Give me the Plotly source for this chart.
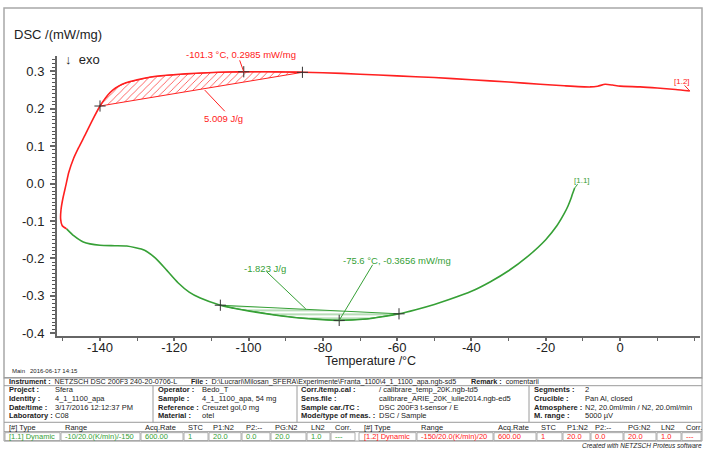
import plotly.graph_objects as go

W, H = 706, 453

# ---------------- data ----------------
# Segment [1.2] heating (red): temperature (°C), DSC (mW/mg)
red_T = [-149.0, -150.2, -150.6, -150.5, -150.0, -149.2, -148.4, -147.2, -145.8, -144.0,
         -142.0, -140.0, -139.0, -138.0, -136.5, -135.0, -133.0, -130.0, -126.6, -122.0,
         -117.0, -111.0, -105.0, -101.3, -95.0, -90.0, -85.5, -80.0, -70.0, -60.0,
         -50.0, -40.0, -30.0, -21.5, -15.0, -8.0, -6.0, -4.0, -2.0, 0.0,
         5.4, 10.0, 15.0, 18.8]
red_v = [-0.121, -0.112, -0.095, -0.070, -0.040, -0.005, 0.030, 0.065, 0.095, 0.130,
         0.170, 0.207, 0.222, 0.235, 0.250, 0.260, 0.269, 0.277, 0.284, 0.289,
         0.293, 0.296, 0.298, 0.2985, 0.2985, 0.298, 0.297, 0.296, 0.292, 0.2875,
         0.283, 0.277, 0.271, 0.265, 0.261, 0.258, 0.260, 0.265, 0.263, 0.260,
         0.258, 0.255, 0.251, 0.247]

# Segment [1.1] cooling (green)
green_T = [-12.2, -12.8, -13.2, -14.0, -15.0, -17.0, -20.0, -25.0, -30.0, -35.0,
           -40.0, -46.0, -50.0, -55.0, -59.5, -64.0, -68.3, -75.6, -81.0, -86.2,
           -93.0, -99.7, -104.0, -107.6, -113.0, -116.0, -119.0, -122.0, -125.0, -128.0,
           -132.8, -136.0, -140.0, -144.5, -147.0, -149.0]
green_v = [-0.012, -0.028, -0.040, -0.060, -0.080, -0.113, -0.150, -0.196, -0.233, -0.263,
           -0.288, -0.310, -0.323, -0.337, -0.348, -0.356, -0.362, -0.3656, -0.363, -0.359,
           -0.351, -0.341, -0.333, -0.325, -0.306, -0.290, -0.265, -0.232, -0.200, -0.178,
           -0.167, -0.166, -0.165, -0.156, -0.140, -0.121]

red_limits = [-140.0, -85.5]
green_limits = [-107.6, -59.5]
red_peak = (-101.3, 0.2985)
green_peak = (-75.6, -0.3656)
red_area_label = "5.009 J/g"
green_area_label = "-1.823 J/g"

x_ticks = [-140, -120, -100, -80, -60, -40, -20, 0]
y_ticks = [0.3, 0.2, 0.1, 0.0, -0.1, -0.2, -0.3, -0.4]

RED = "#ff2020"
GREEN = "#36a036"
TXT = "#222222"
FONT = "Liberation Sans, Arial, sans-serif"


def px(x):
    return x / W


def py(y):
    return 1 - y / H


def v_at(T_list, v_list, T):
    for i, t in enumerate(T_list):
        if abs(t - T) < 1e-9:
            return v_list[i]
    return None


fig = go.Figure()

# hatched integration areas
rT = [t for t, v in zip(red_T, red_v) if red_limits[0] <= t <= red_limits[1] and v > 0.15]
rV = [v for t, v in zip(red_T, red_v) if red_limits[0] <= t <= red_limits[1] and v > 0.15]
fig.add_trace(go.Scatter(x=rT + [rT[0]], y=rV + [rV[0]], mode="lines", fill="toself",
                         fillcolor="rgba(0,0,0,0)",
                         fillpattern=dict(shape="/", fgcolor=RED, bgcolor="rgba(0,0,0,0)",
                                          size=5, solidity=0.15, fgopacity=0.9),
                         line=dict(color=RED, width=1), hoverinfo="skip", showlegend=False))

gT = [t for t in green_T if green_limits[0] <= t <= green_limits[1]]
gV = [v for t, v in zip(green_T, green_v) if green_limits[0] <= t <= green_limits[1]]
fig.add_trace(go.Scatter(x=gT + [gT[0]], y=gV + [gV[0]], mode="lines", fill="toself",
                         fillcolor="rgba(0,0,0,0)",
                         fillpattern=dict(shape="-", fgcolor=GREEN, bgcolor="rgba(0,0,0,0)",
                                          size=4, solidity=0.2, fgopacity=0.9),
                         line=dict(color=GREEN, width=1), hoverinfo="skip", showlegend=False))

# curves
fig.add_trace(go.Scatter(x=green_T, y=green_v, mode="lines",
                         line=dict(color=GREEN, width=1.6, shape="spline", smoothing=0.6),
                         showlegend=False, hoverinfo="skip"))
fig.add_trace(go.Scatter(x=red_T, y=red_v, mode="lines",
                         line=dict(color=RED, width=1.6, shape="spline", smoothing=0.6),
                         showlegend=False, hoverinfo="skip"))

# markers
mk_x = [red_limits[0], red_peak[0], red_limits[1], green_limits[0], green_peak[0], green_limits[1]]
mk_y = [v_at(red_T, red_v, red_limits[0]), red_peak[1], v_at(red_T, red_v, red_limits[1]),
        v_at(green_T, green_v, green_limits[0]), green_peak[1], v_at(green_T, green_v, green_limits[1])]
fig.add_trace(go.Scatter(x=mk_x, y=mk_y, mode="markers",
                         marker=dict(symbol="cross-thin", size=8, line=dict(color="#333", width=1)),
                         showlegend=False, hoverinfo="skip"))

shapes = []
annotations = []


def dline(x0, y0, x1, y1, color):
    shapes.append(dict(type="line", xref="x", yref="y", x0=x0, y0=y0, x1=x1, y1=y1,
                       line=dict(color=color, width=1)))


def dtext(x, y, text, color, size=9.5, anchor="center"):
    annotations.append(dict(x=x, y=y, xref="x", yref="y", text=text, showarrow=False,
                            xanchor=anchor, yanchor="middle",
                            font=dict(family=FONT, size=size, color=color)))


def ptext(x, y, text, size=7.5, color=TXT, anchor="left", italic=False):
    annotations.append(dict(x=px(x), y=py(y), xref="paper", yref="paper", text=text,
                            showarrow=False, xanchor=anchor, yanchor="middle",
                            font=dict(family=FONT, size=size, color=color,
                                      style="italic" if italic else "normal")))


# leaders & labels in data space
dline(-102.4, 0.329, red_peak[0], red_peak[1], RED)
ptext(241, 55, f"{red_peak[0]} °C, {red_peak[1]} mW/mg", size=9.5, color=RED, anchor="center")
dline(-111.8, 0.2495, -106.4, 0.193, RED)
dtext(-106.7, 0.173, red_area_label, RED)
dline(-95.2, -0.235, -84.6, -0.335, GREEN)
dtext(-95.7, -0.2265, green_area_label, GREEN)
dline(-66.6, -0.217, green_peak[0], green_peak[1], GREEN)
dtext(-60.0, -0.206, f"{green_peak[0]} °C, {green_peak[1]} mW/mg", GREEN)
dline(17.4, 0.262, 18.8, 0.247, RED)
dtext(16.7, 0.273, "[1.2]", RED, size=8)
dline(-11.4, -0.002, -12.2, -0.012, GREEN)
dtext(-10.2, 0.009, "[1.1]", GREEN, size=8)


def pline(x0, y0, x1, y1, color="#9a9a9a", w=1):
    shapes.append(dict(type="line", xref="paper", yref="paper", x0=px(x0), y0=py(y0),
                       x1=px(x1), y1=py(y1), line=dict(color=color, width=w)))


def prect(x0, y0, x1, y1, color="#9a9a9a", w=1):
    shapes.append(dict(type="rect", xref="paper", yref="paper", x0=px(x0), y0=py(y0),
                       x1=px(x1), y1=py(y1), line=dict(color=color, width=w)))


# chart frame and headings
prect(4, 8, 702, 382, color="#a8a8a8", w=1.5)
ptext(12, 35, "DSC /(mW/mg)", size=13)
ptext(63, 60, "↓  exo", size=13)
ptext(370, 365, "Temperature /°C", size=12.5, anchor="center")
ptext(10, 375, "Main   2016-06-17 14:15", size=6)

# table
for yy in [382, 390, 427, 436.5, 446]:
    pline(4, yy, 702, yy)
pline(4, 382, 4, 446)
pline(702, 382, 702, 446)
for xx in [153, 297, 529]:
    pline(xx, 390, xx, 427)

ptext(7, 386, "<b>Instrument :</b>  NETZSCH DSC 200F3 240-20-0706-L", size=7.2)
ptext(189, 386, "<b>File :</b>  D:\\Lucrari\\Milosan_SFERA\\Experimente\\Franta_1100\\4_1_1100_apa.ngb-sd5", size=7.1)
ptext(469, 386, "<b>Remark :</b>  comentarii", size=7.2)

rows_y = [394, 402.7, 411.7, 420]
col_labels = [
    (7, ["Project :", "Identity :", "Date/time :", "Laboratory :"]),
    (156, ["Operator :", "Sample :", "Reference :", "Material :"]),
    (299, ["Corr./temp.cal :", "Sens.file :", "Sample car./TC :", "Mode/type of meas. :"]),
    (532, ["Segments :", "Crucible :", "Atmosphere :", "M. range :"]),
]
col_values = [
    (53, ["Sfera", "4_1_1100_apa", "3/17/2016 12:12:37 PM", "C08"]),
    (200, ["Bedo_T", "4_1_1100_apa, 54 mg", "Creuzet gol,0 mg", "otel"]),
    (377, ["/ calibrare_temp_20K.ngb-td5", "calibrare_ARIE_20K_iulie2014.ngb-ed5",
           "DSC 200F3 t-sensor / E", "DSC / Sample"]),
    (583, ["2", "Pan Al, closed", "N2, 20.0ml/min / N2, 20.0ml/min", "5000 µV"]),
]
for x0, labs in col_labels:
    for yy, t in zip(rows_y, labs):
        ptext(x0, yy, f"<b>{t}</b>")
for x0, vals in col_values:
    for yy, t in zip(rows_y, vals):
        ptext(x0, yy, t)

seg_headers = ["[#] Type", "Range", "Acq.Rate", "STC", "P1:N2", "P2:--", "PG:N2", "LN2", "Corr."]
seg1_x = [7, 63, 143, 186, 211, 244, 273, 309, 333]
seg2_x = [362, 419, 496, 539, 565, 593, 626, 659, 684]
seg1_vals = ["[1.1] Dynamic", "-10/20.0(K/min)/-150", "600.00", "1", "20.0", "0.0", "20.0", "1.0", "---"]
seg2_vals = ["[1.2] Dynamic", "-150/20.0(K/min)/20", "600.00", "1", "20.0", "0.0", "20.0", "1.0", "---"]
seg1_box = [5, 61, 141, 184, 209, 242, 271, 307, 331, 356]
seg2_box = [359, 417, 494, 537, 563, 591, 624, 657, 682, 702]

for xs, vals, box, col in [(seg1_x, seg1_vals, seg1_box, GREEN), (seg2_x, seg2_vals, seg2_box, RED)]:
    for x0, h in zip(xs, seg_headers):
        ptext(x0, 432, h)
    for x0, v in zip(xs, vals):
        ptext(x0, 441.3, v, color=col)
    for a, b in zip(box[:-1], box[1:]):
        prect(a, 437.5, b - 1, 445.5, color="#9a9a9a", w=0.8)

ptext(704, 450, "Created with NETZSCH Proteus software", size=6.5, anchor="right", italic=True)

fig.update_layout(
    width=W, height=H, autosize=False,
    margin=dict(l=0, r=0, t=0, b=0, pad=0),
    paper_bgcolor="white", plot_bgcolor="white",
    font=dict(family=FONT, color=TXT),
    shapes=shapes, annotations=annotations,
    xaxis=dict(domain=[px(57), px(700)], range=[-151.58, 21.54], tickvals=x_ticks,
               ticktext=[str(t) for t in x_ticks], showgrid=False, zeroline=False,
               showline=True, linecolor="#666", linewidth=2, ticks="outside", ticklen=3,
               tickcolor="#666", tickwidth=1.5, tickfont=dict(size=13, color=TXT, family=FONT),
               ticklabelstandoff=-5,
               minor=dict(dtick=10, tick0=0, ticks="outside", ticklen=3, tickcolor="#666",
                          tickwidth=1),
               anchor="y"),
    yaxis=dict(domain=[py(340), py(57)], range=[-0.4079, 0.3396], tickvals=y_ticks,
               ticktext=[f"{t:.1f}" for t in y_ticks], showgrid=False, zeroline=False,
               showline=True, linecolor="#666", linewidth=2, ticks="outside", ticklen=5,
               tickcolor="#666", tickwidth=1.5, tickfont=dict(size=13, color=TXT, family=FONT),
               ticklabelstandoff=3,
               minor=dict(dtick=0.01, tick0=0, ticks="outside", ticklen=3, tickcolor="#555",
                          tickwidth=1),
               anchor="x"),
)

fig.write_html("out.html")
